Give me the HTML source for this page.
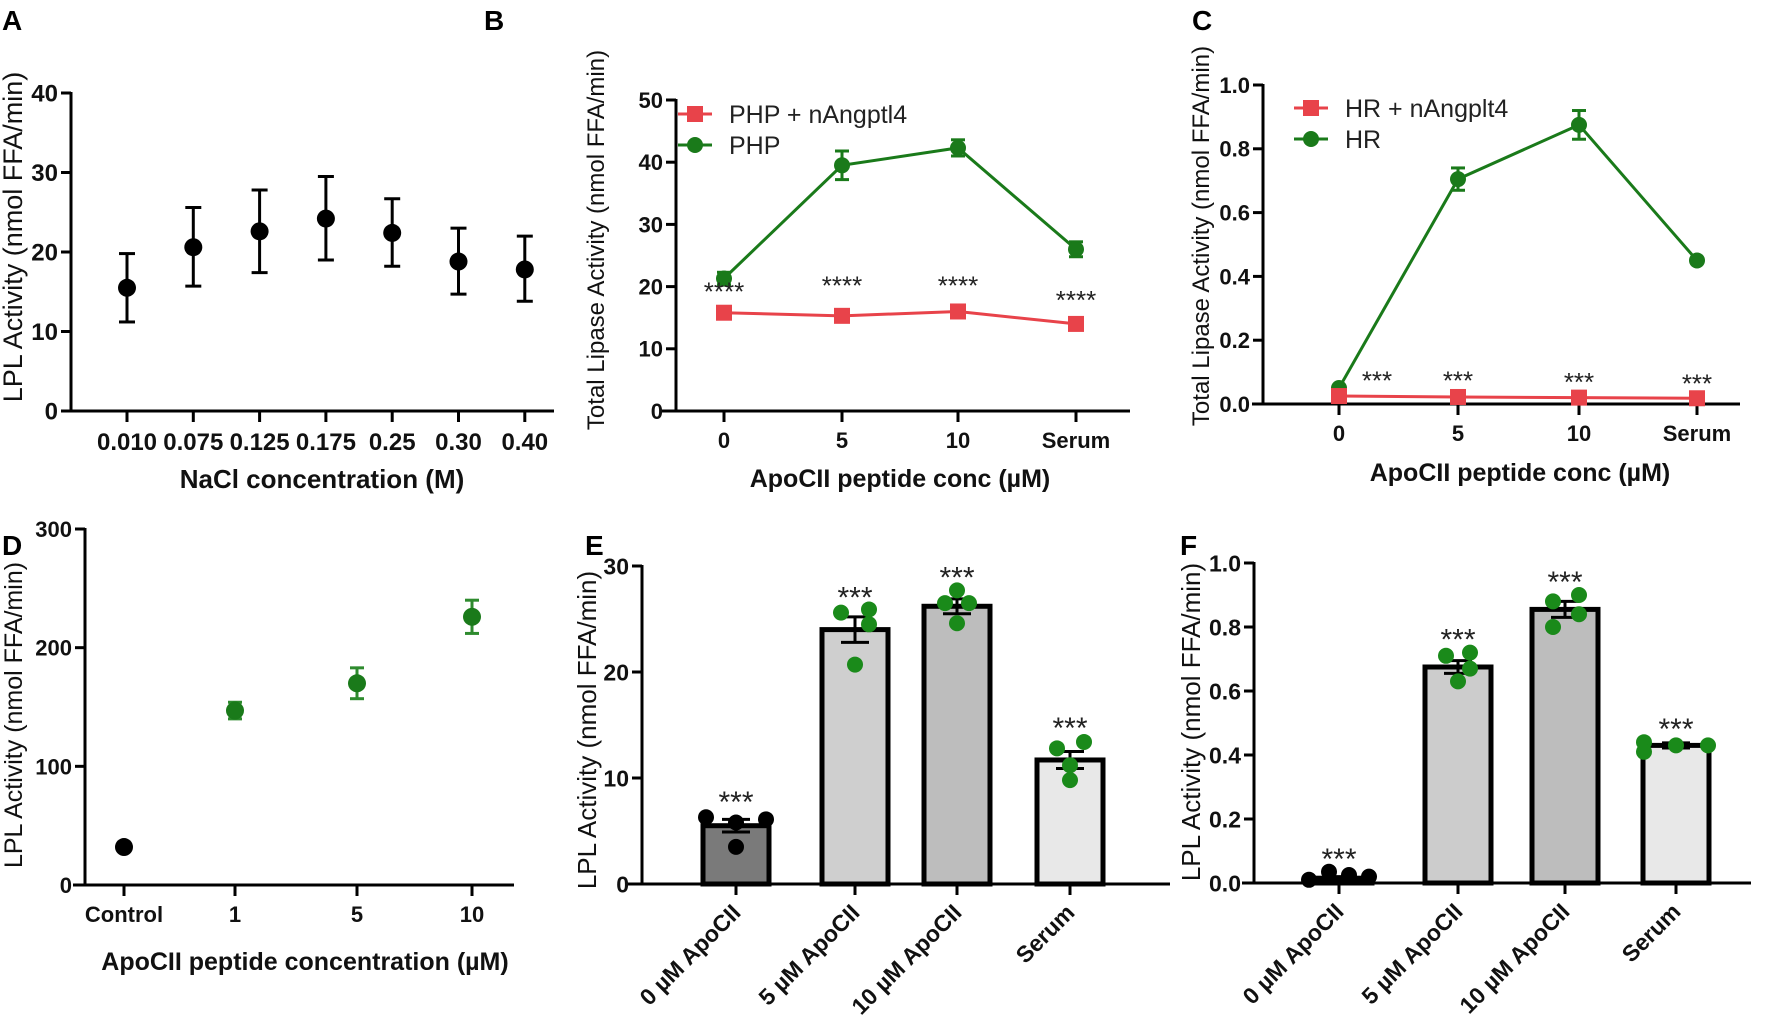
<!DOCTYPE html>
<html><head><meta charset="utf-8">
<style>
html,body{margin:0;padding:0;background:#fff;}
svg{display:block;font-family:"Liberation Sans",Arial,sans-serif;}
.tick{font-weight:bold;fill:#111;}
.ytitle{fill:#111;}
.xtitle{font-weight:bold;fill:#111;}
.letter{font-weight:bold;font-size:28px;fill:#000;}
.star{fill:#222;}
.leg{font-size:25px;fill:#222;}
</style></head>
<body>
<svg id="fig" width="1772" height="1028" viewBox="0 0 1772 1028" xmlns="http://www.w3.org/2000/svg"></svg>
<script>
// ---- Panel A data ----
const aCats = ["0.010","0.075","0.125","0.175","0.25","0.30","0.40"];
const aMean = [15.5,20.6,22.6,24.2,22.4,18.8,17.8];
const aLow  = [11.2,15.7,17.4,19.0,18.2,14.7,13.8];
const aHigh = [19.8,25.6,27.8,29.5,26.7,23.0,22.0];
const aTicks = [0,10,20,30,40];
// ---- Panel B data ----
const bCats = ["0","5","10","Serum"];
const bGreen = [21.3,39.5,42.3,26.0];
const bGreenErr = [1.0,2.3,1.3,1.2];
const bRed = [15.8,15.3,16.0,14.0];
const bStarY = [19.5,20.5,20.5,18.2];
const bTicks = [0,10,20,30,40,50];
// ---- Panel C data ----
const cCats = ["0","5","10","Serum"];
const cGreen = [0.05,0.705,0.875,0.45];
const cGreenErr = [0.0,0.035,0.045,0.0];
const cRed = [0.025,0.022,0.02,0.018];
const cStarY = [0.08,0.08,0.075,0.07];
const cTicks = [0,0.2,0.4,0.6,0.8,1.0];
// ---- Panel D data ----
const dCats = ["Control","1","5","10"];
const dMean = [32,147,170,226];
const dErr = [0,7,13,14];
const dTicks = [0,100,200,300];
// ---- Panel E data ----
const eCats = ["0 µM ApoCII","5 µM ApoCII","10 µM ApoCII","Serum"];
const eMean = [5.5,24.0,26.2,11.7];
const eErr = [0.6,1.2,0.7,0.8];
const ePts = [[6.3,5.8,6.1,3.5],[25.6,25.9,24.5,20.7],[27.7,26.5,26.5,24.6],[12.8,13.4,11.2,9.8]];
const eStarY = [8.0,27.3,29.2,15.0];
const eTicks = [0,10,20,30];
// ---- Panel F data ----
const fCats = ["0 µM ApoCII","5 µM ApoCII","10 µM ApoCII","Serum"];
const fMean = [0.015,0.675,0.855,0.43];
const fErr = [0.005,0.02,0.025,0.008];
const fPts = [[0.01,0.035,0.025,0.02],[0.71,0.72,0.67,0.63],[0.88,0.9,0.84,0.8],[0.44,0.41,0.43,0.43]];
const fStarY = [0.084,0.77,0.95,0.49];
const fTicks = [0,0.2,0.4,0.6,0.8,1.0];

const svg = document.getElementById('fig');
const NS = "http://www.w3.org/2000/svg";
function mk(tag, attrs, parent){
  const el = document.createElementNS(NS, tag);
  for (const k in attrs) el.setAttribute(k, attrs[k]);
  (parent||svg).appendChild(el);
  return el;
}
function txt(s, x, y, cls, parent, extra){
  const t = mk('text', Object.assign({x:x, y:y, class:cls}, extra||{}), parent);
  t.textContent = s;
  return t;
}
function scaleY(y0px, y1px, vmax){ return v => y0px - (v/vmax)*(y0px-y1px); }
function axes(g, ax, x0, x1, yAt, ticks, fmt, xticks, tickLabels, labY, fs, rotate){
  const yTop = yAt(ticks[ticks.length-1]);
  const ya = mk('line',{x1:ax,y1:yTop-1,x2:ax,y2:yAt(0)+1.5,stroke:'#000','stroke-width':3},g);
   
  const xa = mk('line',{x1:x0,y1:yAt(0),x2:x1,y2:yAt(0),stroke:'#000','stroke-width':3},g);
   
  ticks.forEach(v=>{
    mk('line',{x1:ax-10,y1:yAt(v),x2:ax,y2:yAt(v),stroke:'#000','stroke-width':3},g);
    const t = txt(fmt(v), ax-13, yAt(v)+fs*0.36, 'tick', g, {'text-anchor':'end','font-size':fs});
     
  });
  xticks.forEach((x,i)=>{
    mk('line',{x1:x,y1:yAt(0),x2:x,y2:yAt(0)+11,stroke:'#000','stroke-width':3},g);
    let t;
    if (rotate){
      t = txt(tickLabels[i], x+6, yAt(0)+30, 'tick', g, {'text-anchor':'end','font-size':fs, transform:`rotate(-45 ${x+6} ${yAt(0)+30})`});
    } else {
      t = txt(tickLabels[i], x, labY, 'tick', g, {'text-anchor':'middle','font-size':fs});
    }
     
  });
}
function ytitle(g, s, x, cy, fs){
  const t = txt(s, x, cy, 'ytitle', g, {'text-anchor':'middle','font-size':fs, transform:`rotate(-90 ${x} ${cy})`});
   
}
function xtitle(g, s, cx, y, fs){
  const t = txt(s, cx, y, 'xtitle', g, {'text-anchor':'middle','font-size':fs});
   
}
function letter(s, x, y){
  const t = txt(s, x, y, 'letter');
   
}
function errbar(g, x, yLo, yHi, color, w){
  mk('line',{x1:x,y1:yLo,x2:x,y2:yHi,stroke:color,'stroke-width':3},g);
  mk('line',{x1:x-w,y1:yLo,x2:x+w,y2:yLo,stroke:color,'stroke-width':3},g);
  mk('line',{x1:x-w,y1:yHi,x2:x+w,y2:yHi,stroke:color,'stroke-width':3},g);
}

// ===== Panel A =====
(function(){
  const g = mk('g',{});
   
  const yA = scaleY(411, 93, 40);
  const xA = i => 127 + i*66.3;
  axes(g, 71, 62, 554, yA, aTicks, v=>String(v), aCats.map((c,i)=>xA(i)), aCats, 450, 24);
  aMean.forEach((v,i)=>{
    errbar(g, xA(i), yA(aLow[i]), yA(aHigh[i]), '#000', 8);
    const c = mk('circle',{cx:xA(i),cy:yA(v),r:9,fill:'#000'},g);
     
  });
  ytitle(g,'LPL Activity (nmol FFA/min)', 22, 237, 27);
  xtitle(g,'NaCl concentration (M)', 322, 488, 26);
  letter('A', 2, 30);
})();

// ===== line panels (B, C) =====
function linePanel(name, ax, x0, x1, y0, yTop, vmax, xs, cats, green, gerr, red, starY, stars, ticks, fmt, legend, legX, legY, ytx, yty, xtx, xty){
  const g = mk('g',{});
   
  const yS = scaleY(y0, yTop, vmax);
  axes(g, ax, x0, x1, yS, ticks, fmt, xs, cats, y0+37, 22);
  const gp = green.map((v,i)=>xs[i]+','+yS(v)).join(' ');
  const gl = mk('polyline',{points:gp,fill:'none',stroke:'#1a7a1a','stroke-width':3},g);
   
  const rp = red.map((v,i)=>xs[i]+','+yS(v)).join(' ');
  const rl = mk('polyline',{points:rp,fill:'none',stroke:'#e8434a','stroke-width':3},g);
   
  green.forEach((v,i)=>{
    if (gerr[i]>0) errbar(g, xs[i], yS(v-gerr[i]), yS(v+gerr[i]), '#1a7a1a', 7);
    const c = mk('circle',{cx:xs[i],cy:yS(v),r:8,fill:'#1a7a1a'},g);
     
  });
  red.forEach((v,i)=>{
    const r = mk('rect',{x:xs[i]-8,y:yS(v)-8,width:16,height:16,fill:'#e8434a'},g);
     
    const dx = (name==='c' && i===0) ? 38 : 0;
    const s = txt(stars, xs[i]+dx, yS(starY[i])+11, 'star', g, {'text-anchor':'middle','font-size':26});
     
  });
  mk('line',{x1:legX-17,y1:legY,x2:legX+17,y2:legY,stroke:'#e8434a','stroke-width':3},g);
  const lr = mk('rect',{x:legX-8,y:legY-8,width:16,height:16,fill:'#e8434a'},g);
   
  const t1 = txt(legend[0], legX+34, legY+9, 'leg', g);
   
  mk('line',{x1:legX-17,y1:legY+31,x2:legX+17,y2:legY+31,stroke:'#1a7a1a','stroke-width':3},g);
  const lc = mk('circle',{cx:legX,cy:legY+31,r:8,fill:'#1a7a1a'},g);
   
  const t2 = txt(legend[1], legX+34, legY+40, 'leg', g);
   
  ytitle(g,'Total Lipase Activity (nmol FFA/min)', ytx, yty, 24);
  xtitle(g,'ApoCII peptide conc (µM)', xtx, xty, 25);
}
linePanel('b', 676, 661, 1130, 411, 100, 50, [724,842,958,1076], bCats, bGreen, bGreenErr, bRed, bStarY, '****', bTicks, v=>String(v), ['PHP + nAngptl4','PHP'], 695, 114, 604, 240, 900, 487);
letter('B', 484, 30);
linePanel('c', 1263, 1252, 1740, 404, 85, 1.0, [1339,1458,1579,1697], cCats, cGreen, cGreenErr, cRed, cStarY, '***', cTicks, v=>v.toFixed(1), ['HR + nAngplt4','HR'], 1311, 108, 1209, 236, 1520, 481);
letter('C', 1192, 30);

// ===== Panel D =====
(function(){
  const g = mk('g',{});
   
  const yS = scaleY(885, 529, 300);
  const xs = [124,235,357,472];
  axes(g, 85, 73, 514, yS, dTicks, v=>String(v), xs, dCats, 922, 22);
  dMean.forEach((v,i)=>{
    const col = i===0 ? '#000' : '#1a7a1a';
    if (dErr[i]>0) errbar(g, xs[i], yS(v-dErr[i]), yS(v+dErr[i]), '#2e8b2e', 7);
    const c = mk('circle',{cx:xs[i],cy:yS(v),r:9,fill:col},g);
     
  });
  ytitle(g,'LPL Activity (nmol FFA/min)', 22, 715, 25);
  xtitle(g,'ApoCII peptide concentration (µM)', 305, 970, 25);
  letter('D', 2, 555);
})();

// ===== bar panels (E, F) =====
function barPanel(name, ax, x0, x1, y0, yTop, vmax, xs, cats, mean, err, pts, starY, ticks, fmt, fills, ptColors, offs, ytx, yty){
  const g = mk('g',{});
   
  const yS = scaleY(y0, yTop, vmax);
  mean.forEach((v,i)=>{
    const b = mk('rect',{x:xs[i]-33,y:yS(v),width:66,height:y0-yS(v),fill:fills[i],stroke:'#000','stroke-width':5},g);
     
  });
  axes(g, ax, x0, x1, yS, ticks, fmt, xs, cats, 0, 23, true);
  mean.forEach((v,i)=>{
    errbar(g, xs[i], yS(v-err[i]), yS(v+err[i]), '#000', 14);
    pts[i].forEach((p,j)=>{
      const c = mk('circle',{cx:xs[i]+offs[i][j],cy:yS(p),r:8,fill:ptColors[i]},g);
       
    });
    const s = txt('***', xs[i], yS(starY[i])+13, 'star', g, {'text-anchor':'middle','font-size':30});
     
  });
  ytitle(g,'LPL Activity (nmol FFA/min)', ytx, yty, 26);
}
barPanel('e', 642, 628, 1170, 884, 566, 30, [736,855,957,1070], eCats, eMean, eErr, ePts, eStarY, eTicks, v=>String(v),
  ['#7a7a7a','#cfcfcf','#bdbdbd','#e8e8e8'], ['#000','#1a8a1a','#1a8a1a','#1a8a1a'],
  [[-30,0,30,0],[-14,14,14,0],[0,-12,12,0],[-13,14,0,0]], 596, 730);
letter('E', 585, 555);
barPanel('f', 1254, 1242, 1751, 883, 563, 1.0, [1339,1458,1565,1676], fCats, fMean, fErr, fPts, fStarY, fTicks, v=>v.toFixed(1),
  ['#7a7a7a','#cccccc','#bdbdbd','#e8e8e8'], ['#000','#1a8a1a','#1a8a1a','#1a8a1a'],
  [[-30,-10,10,30],[-12,12,12,0],[-12,14,14,-12],[-32,-32,0,32]], 1200, 722);
letter('F', 1180, 555);
</script>
</body></html>
